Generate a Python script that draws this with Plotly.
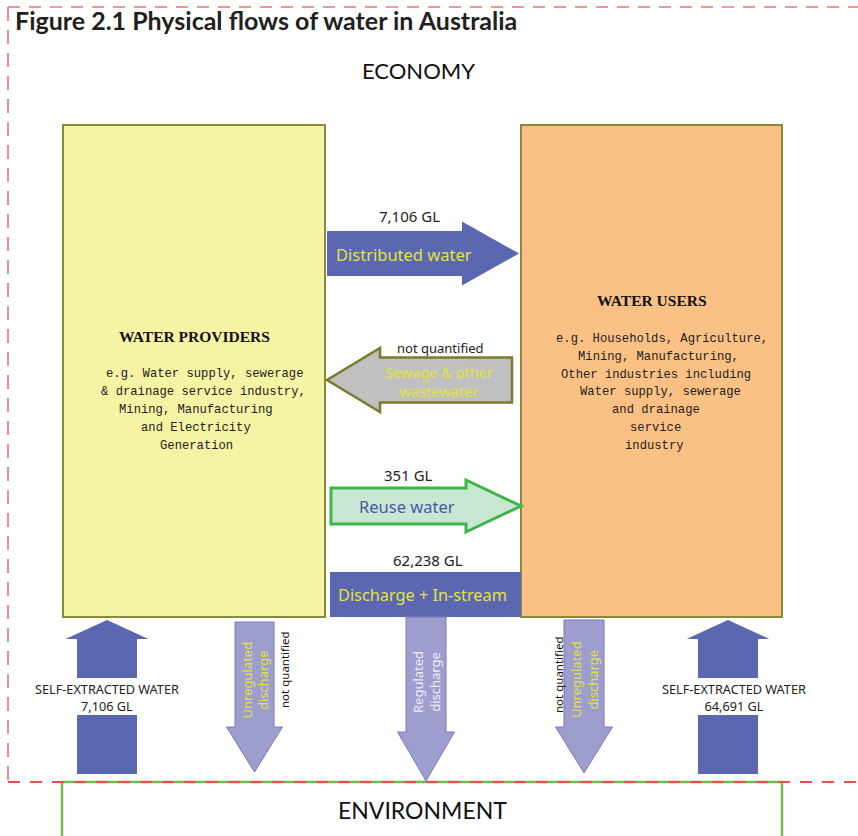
import plotly.graph_objects as go

# ---------------- data (text / values) ----------------
title_text = "Figure 2.1 Physical flows of water in Australia"
sector_names = ["ECONOMY", "ENVIRONMENT"]
box_titles = ["WATER PROVIDERS", "WATER USERS"]
box_bodies = [
    ["e.g. Water supply, sewerage", "& drainage service industry,", "Mining, Manufacturing",
     "and Electricity", "Generation"],
    ["e.g. Households, Agriculture,", "Mining, Manufacturing,", "Other industries including",
     "Water supply, sewerage", "and drainage", "service", "industry"],
]
flow_labels = ["Distributed water", "Sewage & other<br>wastewater", "Reuse water", "Discharge + In-stream"]
flow_values = ["7,106 GL", "not quantified", "351 GL", "62,238 GL"]
self_extracted_label = "SELF-EXTRACTED WATER"
self_extracted_values = ["7,106 GL", "64,691 GL"]
discharge_labels = ["Unregulated<br>discharge", "Regulated<br>discharge", "Unregulated<br>discharge"]
discharge_values = ["not quantified", "", "not quantified"]

# ---------------- styles ----------------
BLUE = "#5C67B1"
LILAC = "#9D9DCE"
LILAC_EDGE = "#7B7BC0"
YELLOW_TXT = "#E3E33C"
OLIVE = "#8A8A3A"
SANS = "Noto Sans"
MONO = "Liberation Mono"
SERIF = "Liberation Serif"

W, H = 858, 836
shapes = []
ann = []


def path_shape(pts, fill, line_color=None, line_width=0, layer="above"):
    d = "M " + " L ".join(f"{x},{y}" for x, y in pts) + " Z"
    shapes.append(dict(type="path", path=d, xref="x", yref="y", fillcolor=fill,
                       line=dict(color=line_color or fill, width=line_width), layer=layer))


def rect(x0, y0, x1, y1, fill, line_color, lw, dash="solid"):
    shapes.append(dict(type="rect", x0=x0, y0=y0, x1=x1, y1=y1, xref="x", yref="y",
                       fillcolor=fill, line=dict(color=line_color, width=lw, dash=dash)))


def hline(x0, x1, y, color, lw, dash):
    shapes.append(dict(type="line", x0=x0, x1=x1, y0=y, y1=y, xref="x", yref="y",
                       line=dict(color=color, width=lw, dash=dash)))


def vline(x, y0, y1, color, lw, dash):
    shapes.append(dict(type="line", x0=x, x1=x, y0=y0, y1=y1, xref="x", yref="y",
                       line=dict(color=color, width=lw, dash=dash)))


def right_arrow(x0, xh, xt, yc, sh, hh):
    return [(x0, yc - sh), (xh, yc - sh), (xh, yc - hh), (xt, yc), (xh, yc + hh), (xh, yc + sh), (x0, yc + sh)]


def left_arrow(xt, xh, x1, yc, sh, hh):
    return [(x1, yc - sh), (xh, yc - sh), (xh, yc - hh), (xt, yc), (xh, yc + hh), (xh, yc + sh), (x1, yc + sh)]


def down_arrow(xc, sw, hw, y0, yh, yt):
    return [(xc - sw, y0), (xc + sw, y0), (xc + sw, yh), (xc + hw, yh), (xc, yt), (xc - hw, yh), (xc - sw, yh)]


def up_arrow(xc, sw, hw, yt, yh, yb):
    return [(xc, yt), (xc + hw, yh), (xc + sw, yh), (xc + sw, yb), (xc - sw, yb), (xc - sw, yh), (xc - hw, yh)]


def text(x, y, s, size, color="#222222", family=SANS, angle=0, xanchor="center", bold=False):
    if bold:
        s = f"<b>{s}</b>"
    ann.append(dict(x=x, y=y, xref="x", yref="y", text=s, showarrow=False, textangle=angle,
                    xanchor=xanchor, yanchor="middle", align="center",
                    font=dict(size=size, color=color, family=family)))


# ---------------- boxes ----------------
rect(63, 125, 325, 617, "#F7F3A5", OLIVE, 2)
rect(521, 125, 782, 617, "#FBC184", OLIVE, 2)

# Environment box (green) and economy boundary (red dashed)
rect(62, 782, 782, 900, "rgba(0,0,0,0)", "#6CC04A", 2.5)
RED = "#F07070"
hline(8, 870, 7, RED, 1.6, "12px,9px")
vline(8, 7, 782, RED, 1.6, "14px,9px")
hline(8, 870, 782, "#EE4C4C", 1.8, "12px,10px")

# ---------------- horizontal flows ----------------
path_shape(right_arrow(327, 462, 519, 253.5, 22.5, 32), BLUE)
text(404, 254, flow_labels[0], 16.5, YELLOW_TXT)
text(409, 216, flow_values[0], 15, "#222222")

path_shape(left_arrow(327, 380, 512, 380, 22.5, 32), "#C0C0C0", "#7A7A2E", 2.5)
text(439, 381, flow_labels[1], 14.5, YELLOW_TXT)
text(440, 348, flow_values[1], 13, "#222222")

path_shape(right_arrow(331, 466, 521, 506, 18, 26), "#C7E7D2", "#3DB549", 3)
text(407, 506, flow_labels[2], 16.5, "#4A58A6")
text(408, 475, flow_values[2], 15, "#222222")

rect(330, 572, 521, 617, BLUE, BLUE, 0)
text(422, 595, flow_labels[3], 16.3, YELLOW_TXT)
text(428, 560, flow_values[3], 15, "#222222")

# ---------------- discharge (downward) ----------------
path_shape(down_arrow(254.5, 19.5, 28, 622, 727, 772), LILAC, LILAC_EDGE, 1)
text(254.5, 680, discharge_labels[0], 13, YELLOW_TXT, angle=-90)
text(284, 670, discharge_values[0], 11.5, "#111111", angle=-90)

path_shape(down_arrow(426, 20, 28.5, 617, 732, 781), LILAC, LILAC_EDGE, 1)
text(426, 682, discharge_labels[1], 13, "#EDEDF5", angle=-90)

path_shape(down_arrow(584, 20, 28.5, 620, 727, 773), LILAC, LILAC_EDGE, 1)
text(584, 680, discharge_labels[2], 13, YELLOW_TXT, angle=-90)
text(558, 675, discharge_values[2], 11.5, "#111111", angle=-90)

# ---------------- self-extracted (upward) ----------------
for xc in [107, 728]:
    path_shape(up_arrow(xc, 30, 41.5, 620, 639, 678), BLUE)
    rect(xc - 30, 715, xc + 30, 774, BLUE, BLUE, 0)
for xc, val in zip([107, 734], self_extracted_values):
    text(xc, 697, f"{self_extracted_label}<br>{val}", 12.7, "#222222")

# ---------------- box texts ----------------
text(194, 336, box_titles[0], 15.5, "#111111", family=SERIF, bold=True)
left_cx = [204, 203, 196, 196, 196]
for i, (line, cx) in enumerate(zip(box_bodies[0], left_cx)):
    text(cx, 374 + 18 * i, line, 12.2, "#222222", family=MONO)
text(652, 300, box_titles[1], 15.5, "#111111", family=SERIF, bold=True)
right_cx = [662, 658, 656, 660, 656, 655, 654]
for i, (line, cx) in enumerate(zip(box_bodies[1], right_cx)):
    text(cx, 339 + 17.8 * i, line, 12.2, "#222222", family=MONO)

# ---------------- headings ----------------
text(13, 20, title_text, 25, "#231F20", family="Lato", xanchor="left", bold=True)
text(418, 70, sector_names[0], 22, "#111111", family="Lato")
text(422, 810, sector_names[1], 23, "#111111", family="Lato")

fig = go.Figure()
fig.update_layout(
    width=W, height=H, margin=dict(l=0, r=0, t=0, b=0),
    paper_bgcolor="white", plot_bgcolor="white",
    xaxis=dict(range=[0, W], visible=False, fixedrange=True),
    yaxis=dict(range=[H, 0], visible=False, fixedrange=True),
    shapes=shapes, annotations=ann, showlegend=False,
)
fig.write_html("out.html", config={"displayModeBar": False},
               post_script="document.body.style.margin='0';document.body.style.overflow='hidden';")
